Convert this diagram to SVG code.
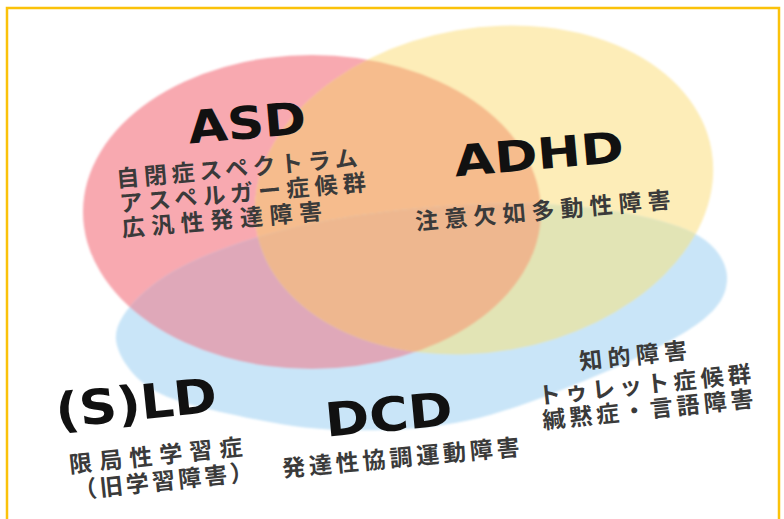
<svg xmlns="http://www.w3.org/2000/svg" xmlns:xlink="http://www.w3.org/1999/xlink" width="784" height="519" viewBox="0 0 784 519">
<style>
.title{font-family:"DejaVu Sans","Noto Sans",sans-serif;font-weight:bold;fill:#111;}
.jp{font-family:"Noto Sans CJK JP","Noto Sans CJK SC",sans-serif;font-weight:bold;fill:#3a3a3a;font-size:23px;}
</style>
<defs>
<ellipse id="shP" cx="312" cy="212" rx="229" ry="157"/>
<ellipse id="shY" cx="484" cy="190" rx="231" ry="162" transform="rotate(-10 484 190)"/>
<path id="shB" d="M116,340 C114.3,324.7 126,309.7 140,296 C154,282.3 173.3,269.7 200,258 C226.7,246.3 263.3,234.3 300,226 C336.7,217.7 380,211.7 420,208 C460,204.3 503.3,202.7 540,204 C576.7,205.3 612.5,210 640,216 C667.5,222 690.5,229.3 705,240 C719.5,250.7 727.8,266.3 727,280 C726.2,293.7 720.3,306.7 700,322 C679.7,337.3 643.3,355.7 605,372 C566.7,388.3 514.2,410.3 470,420 C425.8,429.7 380,431 340,430 C300,429 261.7,421 230,414 C198.3,407 169,400.3 150,388 C131,375.7 117.7,355.3 116,340 Z"/>
<clipPath id="cpP"><use xlink:href="#shP"/></clipPath>
<clipPath id="cpY"><use xlink:href="#shY"/></clipPath>
<filter id="soft" x="-5%" y="-5%" width="110%" height="110%"><feGaussianBlur stdDeviation="1.2"/></filter>
</defs>
<rect x="7" y="8" width="772" height="530" fill="none" stroke="#FBC20A" stroke-width="2.5"/>
<g id="circles" filter="url(#soft)">
<use xlink:href="#shP" fill="#F8A9B0"/>
<use xlink:href="#shY" fill="#FDEDB8"/>
<use xlink:href="#shB" fill="#C9E5F8"/>
<g clip-path="url(#cpP)"><use xlink:href="#shY" fill="#F6BC8D"/></g>
<g clip-path="url(#cpP)"><use xlink:href="#shB" fill="#DFA8B9"/></g>
<g clip-path="url(#cpY)"><use xlink:href="#shB" fill="#E2E4B5"/></g>
<g clip-path="url(#cpP)"><g clip-path="url(#cpY)"><use xlink:href="#shB" fill="#EEB78F"/></g></g>
</g>
<g id="connectors"></g>
<g id="asd" transform="rotate(-5 118 186)">
<text class="title" x="252" y="150" font-size="45" text-anchor="middle" textLength="118" lengthAdjust="spacingAndGlyphs">ASD</text>
<text class="jp" x="117" y="187" textLength="242" lengthAdjust="spacing">自閉症スペクトラム</text>
<text class="jp" x="118" y="212" textLength="247" lengthAdjust="spacing">アスペルガー症候群</text>
<text class="jp" x="118" y="237" textLength="201" lengthAdjust="spacing">広汎性発達障害</text>
</g>
<g id="adhd" transform="rotate(-5 417 229)">
<text class="title" x="545" y="180" font-size="43" text-anchor="middle" textLength="170" lengthAdjust="spacingAndGlyphs">ADHD</text>
<text class="jp" x="416" y="230" textLength="256" lengthAdjust="spacing">注意欠如多動性障害</text>
</g>
<g id="sld" transform="rotate(-6 70 472)">
<text class="title" x="62" y="427" font-size="48" textLength="162" lengthAdjust="spacingAndGlyphs">(S)LD</text>
<text class="jp" x="70" y="473" textLength="174" lengthAdjust="spacing">限局性学習症</text>
<text class="jp" x="72" y="499" textLength="180" lengthAdjust="spacing">（旧学習障害）</text>
</g>
<g id="dcd" transform="rotate(-5.3 283 476)">
<text class="title" x="394" y="441" font-size="47" text-anchor="middle" textLength="128" lengthAdjust="spacingAndGlyphs">DCD</text>
<text class="jp" x="283" y="477" textLength="238" lengthAdjust="spacing">発達性協調運動障害</text>
</g>
<g id="others" transform="rotate(-6 645 392)">
<text class="jp" x="637" y="363" text-anchor="middle" textLength="108" lengthAdjust="spacing">知的障害</text>
<text class="jp" x="645" y="393" text-anchor="middle" textLength="214" lengthAdjust="spacing">トゥレット症候群</text>
<text class="jp" x="646" y="418" text-anchor="middle" textLength="212" lengthAdjust="spacing">緘黙症・言語障害</text>
</g>
</svg>
